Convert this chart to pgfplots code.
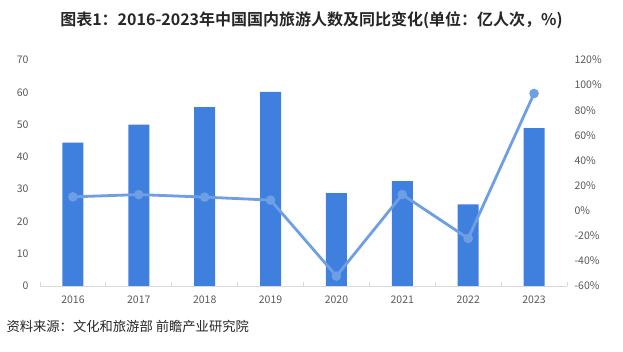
\documentclass[border=0pt]{standalone}
\usepackage{pgfplots}
\pgfplotsset{compat=1.18}
\usepackage{fontspec}
\setmainfont{Noto Sans CJK SC}
\newfontfamily\titlefont{Noto Sans CJK SC Bold}
\definecolor{barblue}{HTML}{3F80DE}
\definecolor{lineblue}{HTML}{6E9FE4}
\definecolor{ticktxt}{HTML}{595959}
\definecolor{axisgray}{HTML}{D9D9D9}
\begin{document}
\begin{tikzpicture}[x=1pt,y=1pt]
\path[use as bounding box] (0,0) rectangle (623,352);
\begin{axis}[
  scale only axis, width=527pt, height=226pt,
  at={(40pt,66pt)}, anchor=south west,
  xmin=-0.5, xmax=7.5, ymin=0, ymax=70,
  ytick={0,10,...,70},
  xtick={0,...,7},
  xticklabels={2016,2017,2018,2019,2020,2021,2022,2023},
  minor xtick={-0.5,0.5,...,7.5},
  axis y line*=left, axis x line*=bottom,
  y axis line style={draw=none},
  x axis line style={draw=axisgray, line width=0.8pt},
  major x tick style={draw=none},
  minor x tick style={draw=axisgray, line width=0.8pt},
  minor tick length=4pt,
  major y tick style={draw=none},
  tick label style={font=\fontsize{10.5}{11}\selectfont, text=ticktxt},
  /pgf/number format/assume math mode=true,
  xticklabel style={yshift=-6pt},
  yticklabel style={xshift=-8pt},
  clip=false,
]
\addplot[ybar, bar width=21pt, fill=barblue, draw=none] coordinates {
(0,44.4) (1,50.0) (2,55.4) (3,60.1) (4,28.8) (5,32.5) (6,25.3) (7,48.9)};
\end{axis}
\begin{axis}[
  scale only axis, width=527pt, height=226pt,
  at={(40pt,66pt)}, anchor=south west,
  xmin=-0.5, xmax=7.5, ymin=-60, ymax=120,
  ytick={-60,-40,...,120},
  yticklabel={\pgfmathprintnumber{\tick}\%},
  axis y line*=right, axis x line=none,
  y axis line style={draw=none},
  major y tick style={draw=none},
  tick label style={font=\fontsize{10.5}{11}\selectfont, text=ticktxt},
  /pgf/number format/assume math mode=true,
  yticklabel style={xshift=4pt},
  clip=false,
]
\addplot[lineblue, line width=2.8pt, mark=*, mark size=3.3pt, mark options={fill=lineblue, draw=none}] coordinates {
(0,11.0) (1,12.8) (2,10.8) (3,8.4) (4,-52.1) (5,12.8) (6,-22.1) (7,93.3)};
\end{axis}
\node[font=\titlefont\fontsize{16}{18}\selectfont, text=black!85] at (311.5,332) {图表1：2016-2023年中国国内旅游人数及同比变化(单位：亿人次，\%)};
\node[anchor=west, font=\fontsize{13.3}{15}\selectfont, text=black!85] at (3,26) {资料来源：文化和旅游部 前瞻产业研究院};
\end{tikzpicture}
\end{document}
